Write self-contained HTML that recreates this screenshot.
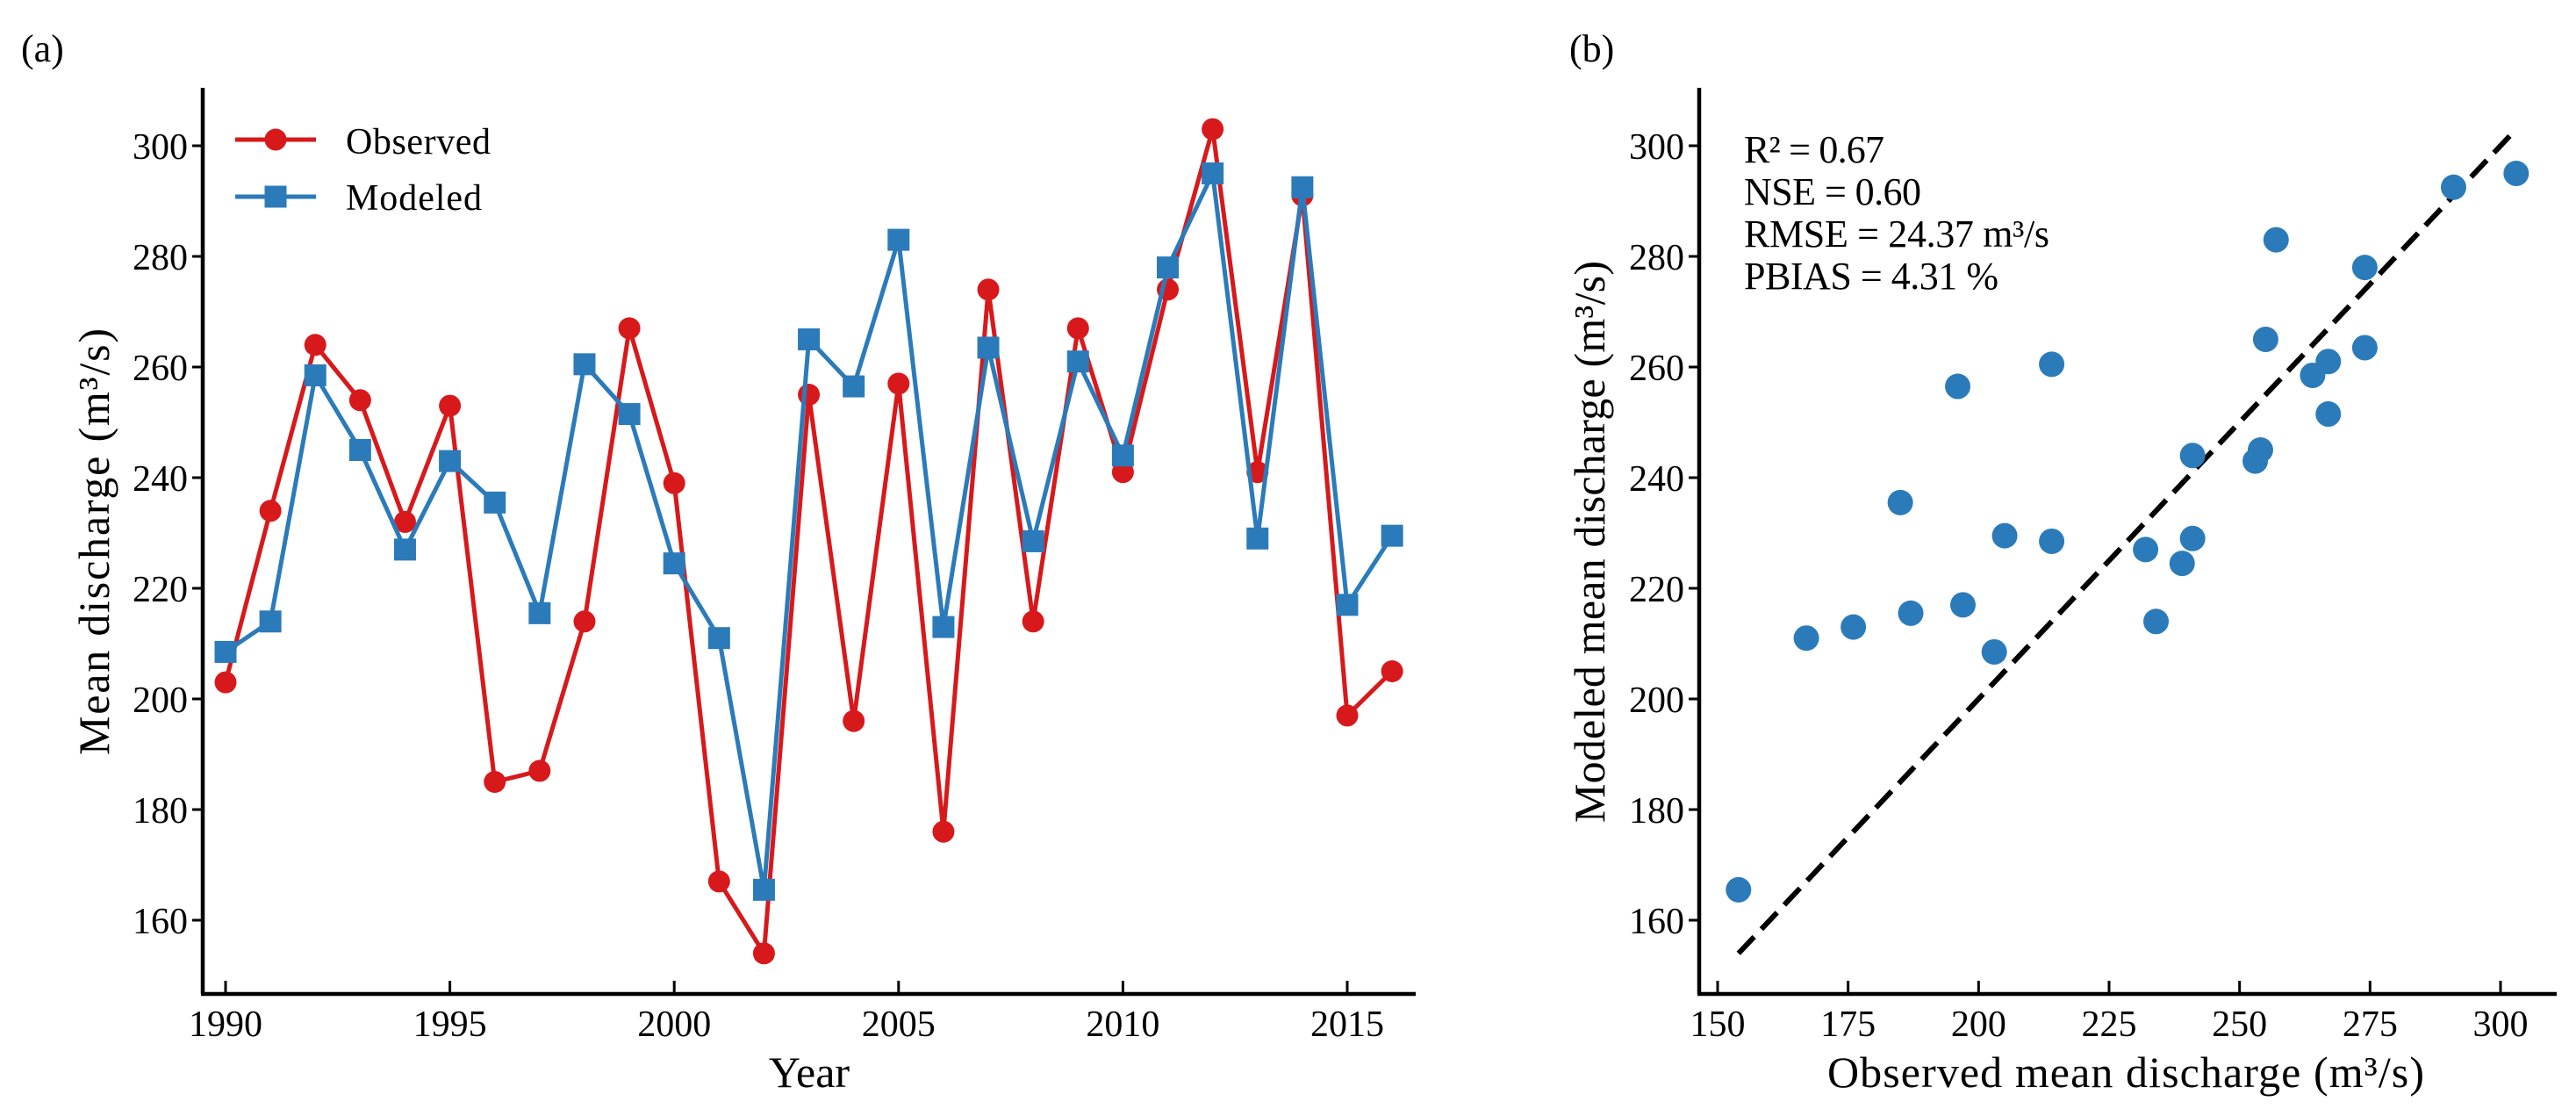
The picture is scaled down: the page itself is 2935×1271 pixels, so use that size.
<!DOCTYPE html>
<html><head><meta charset="utf-8"><style>
html,body{margin:0;padding:0;background:#fff;}
svg{display:block;font-family:"Liberation Serif",serif;}
</style></head><body>
<svg id="chart" width="2935" height="1271" viewBox="0 0 2935 1271" xmlns="http://www.w3.org/2000/svg">
<text x="24" y="70" font-size="44">(a)</text>
<text x="1788" y="70" font-size="44">(b)</text>
<g id="pa"></g>
<g id="pb"></g>
</svg>
<script>
const years=[1990,1991,1992,1993,1994,1995,1996,1997,1998,1999,2000,2001,2002,2003,2004,2005,2006,2007,2008,2009,2010,2011,2012,2013,2014,2015,2016];
const observed=[203,234,264,254,232,253,185,187,214,267,239,167,154,255,196,257,176,274,214,267,241,274,303,241,291,197,205];
const modeled=[208.5,214,258.5,245,227,243,235.5,215.5,260.5,251.5,224.5,211,165.5,265,256.5,283,213,263.5,228.5,261,244,278,295,229,292.5,217,229.5];
const yTicks=[160,180,200,220,240,260,280,300];
const xTicksA=[1990,1995,2000,2005,2010,2015];
const xTicksB=[150,175,200,225,250,275,300];
const statsText=["R² = 0.67","NSE = 0.60","RMSE = 24.37 m³/s","PBIAS = 4.31 %"];
const statsWidth=[160,202,348,290];
const oneToOne=[154,303];

const NS="http://www.w3.org/2000/svg";
const RED="#d7191c",BLUE="#2b7bba";
function mk(p,tag,at){const e=document.createElementNS(NS,tag);for(const k in at)e.setAttribute(k,at[k]);p.appendChild(e);return e;}
const yS=v=>166+(300-v)*(882/140);
const xA=v=>257+(v-1990)*(1278/25);
const xB=v=>1957+(v-150)*(892/150);
const AX=4.5, TK=3, LW=5;

// Panel A
const pa=document.getElementById('pa');
let e;
e=mk(pa,'line',{x1:231,y1:100,x2:231,y2:1132,stroke:'#000','stroke-width':AX});


e=mk(pa,'line',{x1:229,y1:1132,x2:1613,y2:1132,stroke:'#000','stroke-width':AX});


yTicks.forEach(v=>{
 mk(pa,'line',{x1:219,y1:yS(v),x2:231,y2:yS(v),stroke:'#000','stroke-width':TK});
 e=mk(pa,'text',{x:214,y:yS(v)+15,'font-size':42,'text-anchor':'end'});e.textContent=v;
 
 
});
xTicksA.forEach(v=>{
 mk(pa,'line',{x1:xA(v),y1:1117,x2:xA(v),y2:1132,stroke:'#000','stroke-width':TK});
 e=mk(pa,'text',{x:xA(v),y:1180,'font-size':42,'text-anchor':'middle'});e.textContent=v;
 
 
});
e=mk(pa,'text',{x:922,y:1238,'font-size':50,'text-anchor':'middle'});e.textContent='Year';


e=mk(pa,'text',{x:0,y:0,'font-size':50,'text-anchor':'middle',textLength:486,transform:'translate(124,617) rotate(-90)'});e.textContent='Mean discharge (m³/s)';


e=mk(pa,'polyline',{points:years.map((y,i)=>xA(y)+','+yS(observed[i])).join(' '),fill:'none',stroke:RED,'stroke-width':LW});


years.forEach((y,i)=>{e=mk(pa,'circle',{cx:xA(y),cy:yS(observed[i]),r:12.5,fill:RED});
 
 });
e=mk(pa,'polyline',{points:years.map((y,i)=>xA(y)+','+yS(modeled[i])).join(' '),fill:'none',stroke:BLUE,'stroke-width':LW});


years.forEach((y,i)=>{e=mk(pa,'rect',{x:xA(y)-12.5,y:yS(modeled[i])-12.5,width:25,height:25,fill:BLUE});
 
 });
// legend
const lg=mk(pa,'g',{});


mk(lg,'line',{x1:268,y1:159,x2:360,y2:159,stroke:RED,'stroke-width':LW});
mk(lg,'circle',{cx:314,cy:159,r:12.5,fill:RED});
e=mk(lg,'text',{x:394,y:175,'font-size':42,textLength:165});e.textContent='Observed';


mk(lg,'line',{x1:268,y1:224,x2:360,y2:224,stroke:BLUE,'stroke-width':LW});
mk(lg,'rect',{x:301.5,y:211.5,width:25,height:25,fill:BLUE});
e=mk(lg,'text',{x:394,y:239,'font-size':42,textLength:155});e.textContent='Modeled';



// Panel B
const pb=document.getElementById('pb');
e=mk(pb,'line',{x1:1936,y1:100,x2:1936,y2:1132,stroke:'#000','stroke-width':AX});


e=mk(pb,'line',{x1:1934,y1:1132,x2:2913,y2:1132,stroke:'#000','stroke-width':AX});


yTicks.forEach(v=>{
 mk(pb,'line',{x1:1924,y1:yS(v),x2:1936,y2:yS(v),stroke:'#000','stroke-width':TK});
 e=mk(pb,'text',{x:1919,y:yS(v)+15,'font-size':42,'text-anchor':'end'});e.textContent=v;
 
 
});
xTicksB.forEach(v=>{
 mk(pb,'line',{x1:xB(v),y1:1117,x2:xB(v),y2:1132,stroke:'#000','stroke-width':TK});
 e=mk(pb,'text',{x:xB(v),y:1180,'font-size':42,'text-anchor':'middle'});e.textContent=v;
 
 
});
e=mk(pb,'text',{x:2422,y:1238,'font-size':50,'text-anchor':'middle',textLength:680});e.textContent='Observed mean discharge (m³/s)';


e=mk(pb,'text',{x:0,y:0,'font-size':50,'text-anchor':'middle',textLength:640,transform:'translate(1828,617) rotate(-90)'});e.textContent='Modeled mean discharge (m³/s)';


e=mk(pb,'line',{x1:xB(oneToOne[0]),y1:yS(oneToOne[0]),x2:xB(oneToOne[1]),y2:yS(oneToOne[1]),stroke:'#000','stroke-width':6,'stroke-dasharray':'26,12'});


observed.forEach((o,i)=>{e=mk(pb,'circle',{cx:xB(o),cy:yS(modeled[i]),r:14.5,fill:BLUE});
 
 });
statsText.forEach((t,i)=>{e=mk(pb,'text',{x:1987,y:185+i*48,'font-size':44,textLength:statsWidth[i]});e.textContent=t;
 
 });
</script>
</body></html>
